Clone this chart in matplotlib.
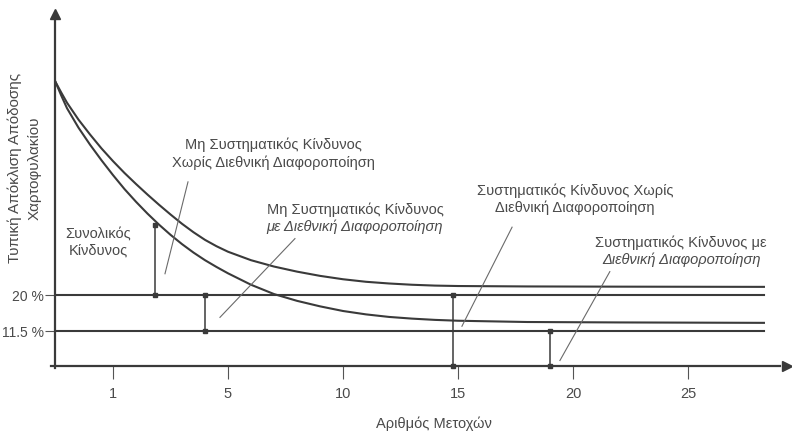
import matplotlib.pyplot as plt

# schematic: portfolio risk vs number of stocks (in %)
stocks = [-2.5, -2.25, -2.0, -1.5, -1.0, -0.5, 0.0, 0.5, 1.0, 1.5, 2.0, 2.5, 3.0, 3.5, 4.0, 4.5,
          5.0, 6.0, 7.0, 8.0, 9.0, 10.0, 11.0, 12.0, 13.0, 14.0, 15.0, 18.0, 22.0, 28.3]
risk_domestic = [70.3, 67.8, 65.4, 61.4, 57.9, 54.6, 51.6, 48.8, 46.2, 43.7, 41.3, 39.0, 36.8, 34.8, 33.0, 31.5,
                 30.2, 28.2, 26.7, 25.5, 24.5, 23.7, 23.1, 22.7, 22.4, 22.2, 22.1, 22.0, 21.95, 21.9]
risk_intl = [70.3, 67.1, 64.1, 59.5, 55.5, 51.8, 48.3, 45.0, 42.0, 39.2, 36.6, 34.2, 32.0, 30.0, 28.2, 26.6,
             25.1, 22.4, 20.2, 18.6, 17.3, 16.2, 15.4, 14.8, 14.4, 14.1, 13.9, 13.6, 13.5, 13.4]

systematic = [20.0, 11.5]
axis_floor = 3.3

# vertical markers (x, from, to)
bar_x = [1.83, 4.0, 14.8, 19.0]
bar_lo = [20.0, 11.5, axis_floor, axis_floor]
bar_hi = [36.6, 20.0, 20.0, 11.5]

# leader lines from labels to the chart
lead_x0 = [3.26, 7.91, 17.35, 21.6]
lead_y0 = [46.7, 33.3, 36.0, 25.5]
lead_x1 = [2.26, 4.65, 15.17, 19.43]
lead_y1 = [25.0, 14.7, 12.6, 4.5]

xtick_pos = [0, 5, 10, 15, 20, 25]
xtick_labels = ['1', '5', '10', '15', '20', '25']
ytick_labels = ['20 %', '11.5 %']

plt.rcParams['font.family'] = ['Liberation Sans', 'DejaVu Sans']
line_c = '#3a3a3a'
text_c = '#4a4a4a'

fig = plt.figure(figsize=(7.92, 4.39), dpi=100)
ax = fig.add_axes([0, 0, 1, 1])

ax.plot(stocks, risk_domestic, color=line_c, lw=1.5)
ax.plot(stocks, risk_intl, color=line_c, lw=1.5)
for level in systematic:
    ax.plot([stocks[0], stocks[-1]], [level, level], color=line_c, lw=1.5)

for x, lo, hi in zip(bar_x, bar_lo, bar_hi):
    ax.plot([x, x], [lo, hi], color=line_c, lw=1.1, marker='s', ms=2.5)

for xa, ya, xb, yb in zip(lead_x0, lead_y0, lead_x1, lead_y1):
    ax.plot([xa, xb], [ya, yb], color='#6a6a6a', lw=0.8)

# labels
fs = 10.5
ax.text(6.96, 55.8, 'Μη Συστηματικός Κίνδυνος', ha='center', va='center', fontsize=fs, color=text_c)
ax.text(6.96, 51.5, 'Χωρίς Διεθνική Διαφοροποίηση', ha='center', va='center', fontsize=fs, color=text_c)
ax.text(10.52, 40.4, 'Μη Συστηματικός Κίνδυνος', ha='center', va='center', fontsize=fs, color=text_c)
ax.text(10.52, 36.4, 'με Διεθνική Διαφοροποίηση', ha='center', va='center', fontsize=fs, color=text_c,
        style='italic')
ax.text(20.09, 44.8, 'Συστηματικός Κίνδυνος Χωρίς', ha='center', va='center', fontsize=fs, color=text_c)
ax.text(20.09, 40.8, 'Διεθνική Διαφοροποίηση', ha='center', va='center', fontsize=fs, color=text_c)
ax.text(24.7, 32.6, 'Συστηματικός Κίνδυνος με', ha='center', va='center', fontsize=fs, color=text_c)
ax.text(24.7, 28.6, 'Διεθνική Διαφοροποίηση', ha='center', va='center', fontsize=fs, color=text_c,
        style='italic')
ax.text(-0.65, 34.5, 'Συνολικός', ha='center', va='center', fontsize=fs, color=text_c)
ax.text(-0.65, 30.7, 'Κίνδυνος', ha='center', va='center', fontsize=fs, color=text_c)

ax.text(-4.26, 50.2, 'Τυπική Απόκλιση Απόδοσης', ha='center', va='center', rotation=90,
        fontsize=11, color=text_c)
ax.text(-3.39, 50.2, 'Χαρτοφυλακίου', ha='center', va='center', rotation=90,
        fontsize=11, color=text_c)
ax.text(13.96, -10.3, 'Αριθμός Μετοχών', ha='center', va='center', fontsize=10.5, color=text_c)

# axes drawn as arrows
for side in ['top', 'right']:
    ax.spines[side].set_visible(False)
ax.spines['left'].set_position(('data', -2.52))
ax.spines['bottom'].set_position(('data', axis_floor))
ax.spines['left'].set_bounds(2.8, 85.5)
ax.spines['bottom'].set_bounds(-2.7, 29.0)
for side in ['left', 'bottom']:
    ax.spines[side].set_color(line_c)
    ax.spines[side].set_linewidth(1.6)
ax.plot([-2.52], [86.3], marker='^', ms=7, color=line_c, clip_on=False)
ax.plot([29.3], [axis_floor], marker='>', ms=7, color=line_c, clip_on=False)

ax.set_xticks(xtick_pos)
ax.set_xticklabels(xtick_labels)
ax.set_yticks(systematic)
ax.set_yticklabels(ytick_labels)
ax.tick_params(axis='x', direction='out', length=9, width=0.8, pad=6, labelsize=10.5,
               colors='#555555', labelcolor=text_c)
ax.tick_params(axis='y', direction='out', length=7, width=0.8, pad=1, labelsize=10,
               colors='#555555', labelcolor=text_c)

ax.set_xlim(-4.913, 29.52)
ax.set_ylim(-13.8, 89.9)

fig.savefig('out.png', dpi=100)
